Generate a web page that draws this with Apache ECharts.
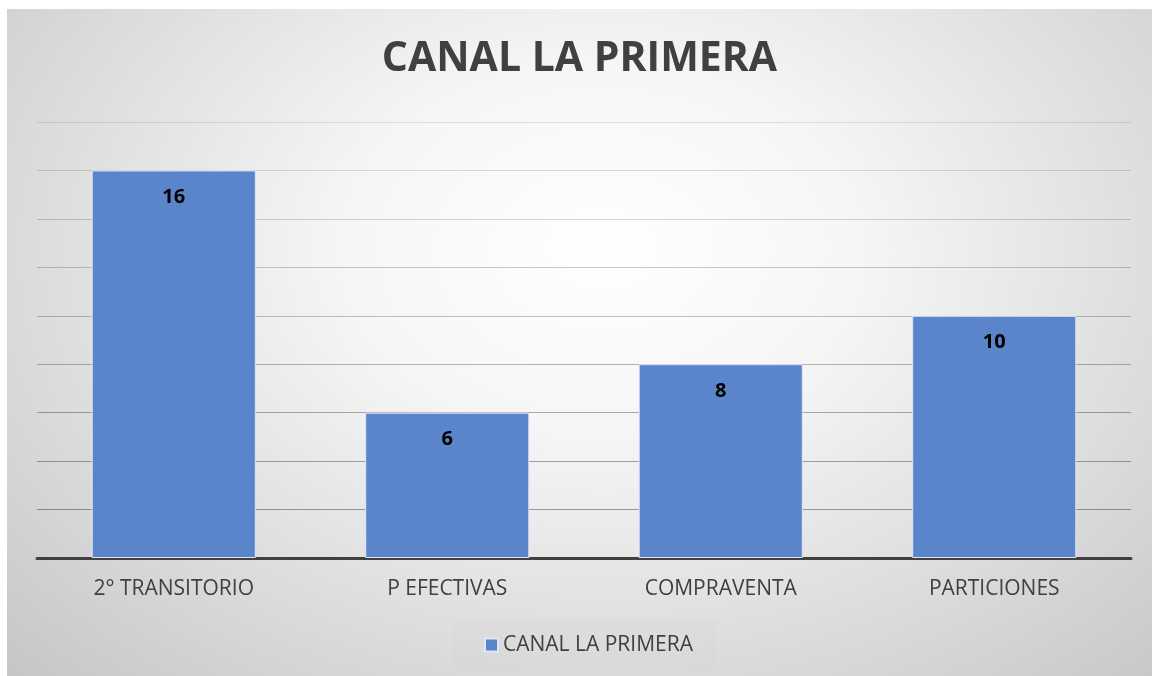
<!DOCTYPE html>
<html>
<head>
<meta charset="utf-8">
<script src="https://cdn.jsdelivr.net/npm/echarts@6/dist/echarts.min.js"></script>
<style>
  html, body { margin: 0; padding: 0; background: #fff; }
  #chart {
    position: absolute;
    left: 7px;
    top: 9px;
    width: 1145px;
    height: 667px;
    background: radial-gradient(ellipse at 52% 36%, #ffffff 0%, #f6f6f6 30%, #c6c6c6 100%);
  }
</style>
</head>
<body>
<div id="chart"></div>
<script>
const categories = ['2° TRANSITORIO', 'P EFECTIVAS', 'COMPRAVENTA', 'PARTICIONES']
const values = [16, 6, 8, 10]
const seriesName = 'CANAL LA PRIMERA'
const yMax = 18
const yStep = 2

// gridlines look darker lower down in the original
const gridColors = [0.4, 0.36, 0.34, 0.32, 0.28, 0.24, 0.2, 0.17, 0.14, 0.1]
  .map(a => 'rgba(0,0,0,' + a + ')')

const chart = echarts.init(document.getElementById('chart'))
chart.setOption({
  backgroundColor: 'transparent',
  title: {
    text: 'CANAL LA PRIMERA',
    left: 'center',
    top: 22,
    padding: 0,
    textStyle: {
      fontFamily: 'Open Sans',
      fontSize: 41,
      lineHeight: 56,
      fontWeight: 'bold',
      color: '#404040'
    }
  },
  legend: {
    data: [seriesName],
    left: 446,
    top: 611,
    padding: [13, 23, 13, 31],
    backgroundColor: 'rgba(210,210,210,0.18)',
    itemWidth: 13,
    itemHeight: 13,
    icon: 'rect',
    textStyle: {
      fontFamily: 'Open Sans',
      fontSize: 21,
      lineHeight: 24,
      color: '#404040'
    }
  },
  grid: {
    left: 30,
    right: 21,
    top: 113,
    bottom: 118
  },
  xAxis: {
    type: 'category',
    data: categories,
    axisTick: { show: false },
    axisLine: { lineStyle: { color: '#404040', width: 3 } },
    axisLabel: {
      margin: 21,
      fontFamily: 'Open Sans',
      fontSize: 21,
      lineHeight: 21,
      color: '#404040'
    }
  },
  yAxis: {
    type: 'value',
    min: 0,
    max: yMax,
    interval: yStep,
    axisLabel: { show: false },
    axisLine: { show: false },
    axisTick: { show: false },
    splitLine: { lineStyle: { color: gridColors, width: 1 } }
  },
  series: [
    {
      name: seriesName,
      type: 'bar',
      data: values,
      barWidth: '60%',
      itemStyle: {
        color: '#5b85ca',
        borderColor: '#dfe7f4',
        borderWidth: 1
      },
      label: {
        show: true,
        position: 'insideTop',
        distance: 17,
        fontFamily: 'Open Sans',
        fontSize: 20,
        lineHeight: 20,
        fontWeight: 'bold',
        color: '#000'
      }
    }
  ]
})
</script>
</body>
</html>
